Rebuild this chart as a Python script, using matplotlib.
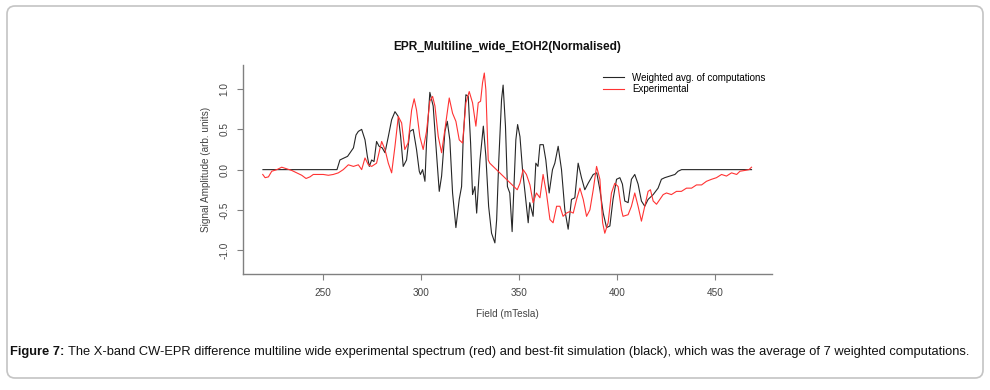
import matplotlib
matplotlib.use("Agg")
import matplotlib.pyplot as plt
import matplotlib.patches as mpatches
from matplotlib import font_manager
from matplotlib.transforms import IdentityTransform

plt.rcParams['font.family'] = ['Liberation Sans', 'DejaVu Sans']

#Data (field in mTesla, normalised amplitude)
sim_field = [219.2, 257.0, 258.5, 260.2, 262.4, 263.7, 265.4, 266.7, 267.9, 269.6,
             271.3, 272.5, 273.5, 274.7, 275.9, 277.2, 278.5, 280.1, 281.5, 283.2,
             284.9, 286.6, 288.3, 289.5, 290.8, 292.5, 294.2, 295.9, 297.6, 299.0,
             299.6, 300.7, 301.9, 302.7, 304.4, 306.1, 307.9, 309.2, 310.4, 312.1,
             313.3, 314.6, 316.0, 317.7, 319.4, 320.6, 321.4, 322.8, 324.0, 325.2,
             326.2, 327.4, 328.3, 330.0, 331.7, 333.0, 334.4, 335.9, 337.6, 338.5,
             339.6, 341.0, 341.8, 343.0, 344.0, 345.2, 346.4, 347.2, 348.3, 349.2,
             350.4, 351.7, 353.0, 354.6, 355.4, 357.1, 358.5, 359.6, 360.6, 362.3,
             363.6, 365.3, 367.0, 368.2, 369.9, 371.6, 373.3, 375.0, 376.7, 378.4,
             380.1, 381.8, 383.5, 385.2, 387.8, 389.6, 391.2, 392.9, 394.6, 396.3,
             397.9, 399.7, 401.4, 402.7, 403.9, 405.6, 407.3, 409.0, 410.7, 412.4,
             414.1, 415.8, 418.4, 420.9, 422.6, 424.3, 426.9, 429.5, 431.1, 432.9,
             468.6]
sim_amp = [0, 0, 0.12, 0.14, 0.165, 0.21, 0.27, 0.43, 0.475, 0.50,
           0.37, 0.165, 0.04, 0.12, 0.10, 0.35, 0.29, 0.27, 0.21, 0.41,
           0.62, 0.72, 0.66, 0.41, 0.04, 0.12, 0.475, 0.50, 0.25, -0.02,
           -0.06, 0.0, -0.145, 0.33, 0.96, 0.79, 0.165, -0.27, -0.08, 0.475,
           0.60, 0.37, -0.29, -0.72, -0.37, -0.21, 0.37, 0.93, 0.91, 0.33,
           -0.31, -0.21, -0.54, 0.12, 0.54, 0.165, -0.455, -0.79, -0.91, -0.62,
           0.12, 0.87, 1.05, 0.54, -0.21, -0.29, -0.77, -0.29, 0.37, 0.56,
           0.41, 0.0, -0.29, -0.66, -0.41, -0.58, 0.08, 0.04, 0.31, 0.31,
           0.12, -0.29, 0.0, 0.08, 0.29, 0.0, -0.50, -0.74, -0.37, -0.35,
           0.08, -0.1, -0.25, -0.17, -0.06, -0.04, -0.25, -0.54, -0.72, -0.70,
           -0.37, -0.12, -0.1, -0.18, -0.39, -0.41, -0.12, -0.06, -0.18, -0.39,
           -0.455, -0.37, -0.31, -0.23, -0.12, -0.1, -0.08, -0.06, -0.02, 0.0,
           0.0]

exp_field = [219.1, 220.3, 222.0, 223.7, 226.3, 228.8, 231.4, 233.9, 236.5, 239.0,
             241.2, 243.2, 244.9, 247.4, 250.0, 252.6, 255.1, 257.7, 260.2, 262.8,
             265.4, 267.9, 269.6, 271.3, 273.0, 274.7, 277.2, 279.8, 281.5, 283.2,
             284.9, 286.6, 288.3, 290.0, 291.6, 293.3, 295.1, 296.4, 297.6, 299.3,
             301.0, 302.7, 304.4, 305.8, 307.0, 308.7, 310.4, 312.1, 314.3, 316.0,
             317.7, 319.4, 321.1, 322.8, 324.5, 326.2, 327.9, 329.1, 330.3, 331.3,
             332.2, 333.0, 334.2, 335.0, 349.0, 350.4, 352.0, 353.7, 355.5, 357.1,
             358.8, 360.6, 362.2, 363.9, 365.7, 367.3, 369.1, 370.8, 372.4, 374.1,
             375.9, 377.6, 379.3, 381.0, 382.7, 384.4, 386.1, 387.8, 389.5, 391.2,
             392.6, 393.7, 395.4, 397.1, 398.8, 400.5, 402.2, 403.0, 405.6, 407.3,
             409.0, 410.7, 412.4, 414.1, 415.8, 417.0, 418.4, 420.1, 421.8, 423.5,
             425.2, 427.7, 430.3, 432.8, 435.4, 438.0, 440.5, 443.1, 445.6, 448.2,
             450.7, 453.3, 455.8, 458.4, 461.0, 462.7, 465.2, 467.3, 468.6]
exp_amp = [-0.06, -0.10, -0.09, -0.02, 0.0, 0.03, 0.01, -0.01, -0.04, -0.07,
           -0.11, -0.09, -0.06, -0.06, -0.06, -0.07, -0.06, -0.04, 0.0, 0.06,
           0.04, 0.06, 0.0, 0.145, 0.06, 0.04, 0.08, 0.35, 0.25, 0.08,
           -0.04, 0.29, 0.66, 0.58, 0.25, 0.33, 0.74, 0.88, 0.74, 0.41,
           0.25, 0.475, 0.85, 0.91, 0.79, 0.41, 0.21, 0.50, 0.89, 0.70,
           0.60, 0.37, 0.33, 0.83, 0.97, 0.83, 0.54, 0.83, 0.85, 1.08,
           1.20, 0.99, 0.12, 0.08, -0.25, -0.17, 0.0, -0.06, -0.19, -0.41,
           -0.29, -0.35, -0.06, -0.29, -0.62, -0.66, -0.455, -0.455, -0.58, -0.54,
           -0.52, -0.54, -0.37, -0.23, -0.37, -0.58, -0.50, -0.25, 0.04, -0.12,
           -0.66, -0.79, -0.66, -0.29, -0.17, -0.21, -0.50, -0.58, -0.56, -0.455,
           -0.29, -0.455, -0.64, -0.455, -0.27, -0.25, -0.39, -0.43, -0.37, -0.31,
           -0.29, -0.31, -0.27, -0.27, -0.23, -0.23, -0.19, -0.19, -0.145, -0.12,
           -0.10, -0.06, -0.08, -0.04, -0.06, -0.02, -0.01, 0.0, 0.03]

x_ticks = [250, 300, 350, 400, 450]
y_ticks = [-1.0, -0.5, 0.0, 0.5, 1.0]

caption_bold = 'Figure 7:'
caption_text = ('The X-band CW-EPR difference multiline wide experimental spectrum (red) and '
                'best-fit simulation (black), which was the average of 7 weighted computations.')

fig = plt.figure(figsize=(9.9, 3.9), dpi=100)

#Rounded frame around the figure panel
frame = mpatches.FancyBboxPatch((7, 12), 976, 372, boxstyle="round,pad=0,rounding_size=8",
                                transform=IdentityTransform(), facecolor='none',
                                edgecolor='#c4c4c4', linewidth=1.2)
fig.patches.append(frame)

ax = fig.add_axes([0.2458, 0.2967, 0.5337, 0.5367])
ax.plot(sim_field, sim_amp, color='#262626', linewidth=0.8, label='Weighted avg. of computations')
ax.plot(exp_field, exp_amp, color='#ff3333', linewidth=0.8, label='Experimental')

ax.set_xlim(209.2, 478.9)
ax.set_ylim(-1.3, 1.3)
ax.set_xticks(x_ticks)
ax.set_xticklabels([str(t) for t in x_ticks])
ax.set_yticks(y_ticks)
ax.set_yticklabels(['%.1f' % t for t in y_ticks], rotation=90, va='center')

for side in ['top', 'right']:
    ax.spines[side].set_visible(False)
for side in ['left', 'bottom']:
    ax.spines[side].set_color('#808080')
    ax.spines[side].set_linewidth(1.0)
ax.tick_params(colors='#808080', labelcolor='#444444', length=4, width=0.8,
               labelsize=7.2, pad=6)

ax.set_title('EPR_Multiline_wide_EtOH2(Normalised)', fontsize=8.6, fontweight='bold',
             color='#111111', pad=11)
ax.set_xlabel('Field (mTesla)', fontsize=7.2, color='#444444', labelpad=8)
ax.set_ylabel('Signal Amplitude (arb. units)', fontsize=7.2, color='#444444', labelpad=6)

ax.legend(loc='upper left', bbox_to_anchor=(0.609, 0.814), bbox_transform=fig.transFigure,
          frameon=False, fontsize=7.0, handlelength=2.2, handletextpad=0.8,
          labelspacing=0.15, borderaxespad=0, borderpad=0)

#Caption below the chart: bold label then plain text, narrow font if there is one
names = set(f.name for f in font_manager.fontManager.ttflist)
cap_family = ['Liberation Sans Narrow'] if 'Liberation Sans Narrow' in names else ['Liberation Sans']
cap_y = 1 - 352 / 390
t1 = fig.text(10 / 990, cap_y, caption_bold, fontsize=10, fontweight='bold',
              family=cap_family, va='center', ha='left', color='#111111')
t2 = fig.text(0, cap_y, caption_text, fontsize=10, family=cap_family,
              va='center', ha='left', color='#111111')
fig.canvas.draw()
r = fig.canvas.get_renderer()
total = t1.get_window_extent(r).width + 4 + t2.get_window_extent(r).width
size = min(10 * 968 / total, 10.5)
t1.set_fontsize(size)
t2.set_fontsize(size)
fig.canvas.draw()
bb = t1.get_window_extent(r)
t2.set_x((bb.x1 + 4 * size / 10) / 990)

fig.savefig('out.png', dpi=100)
